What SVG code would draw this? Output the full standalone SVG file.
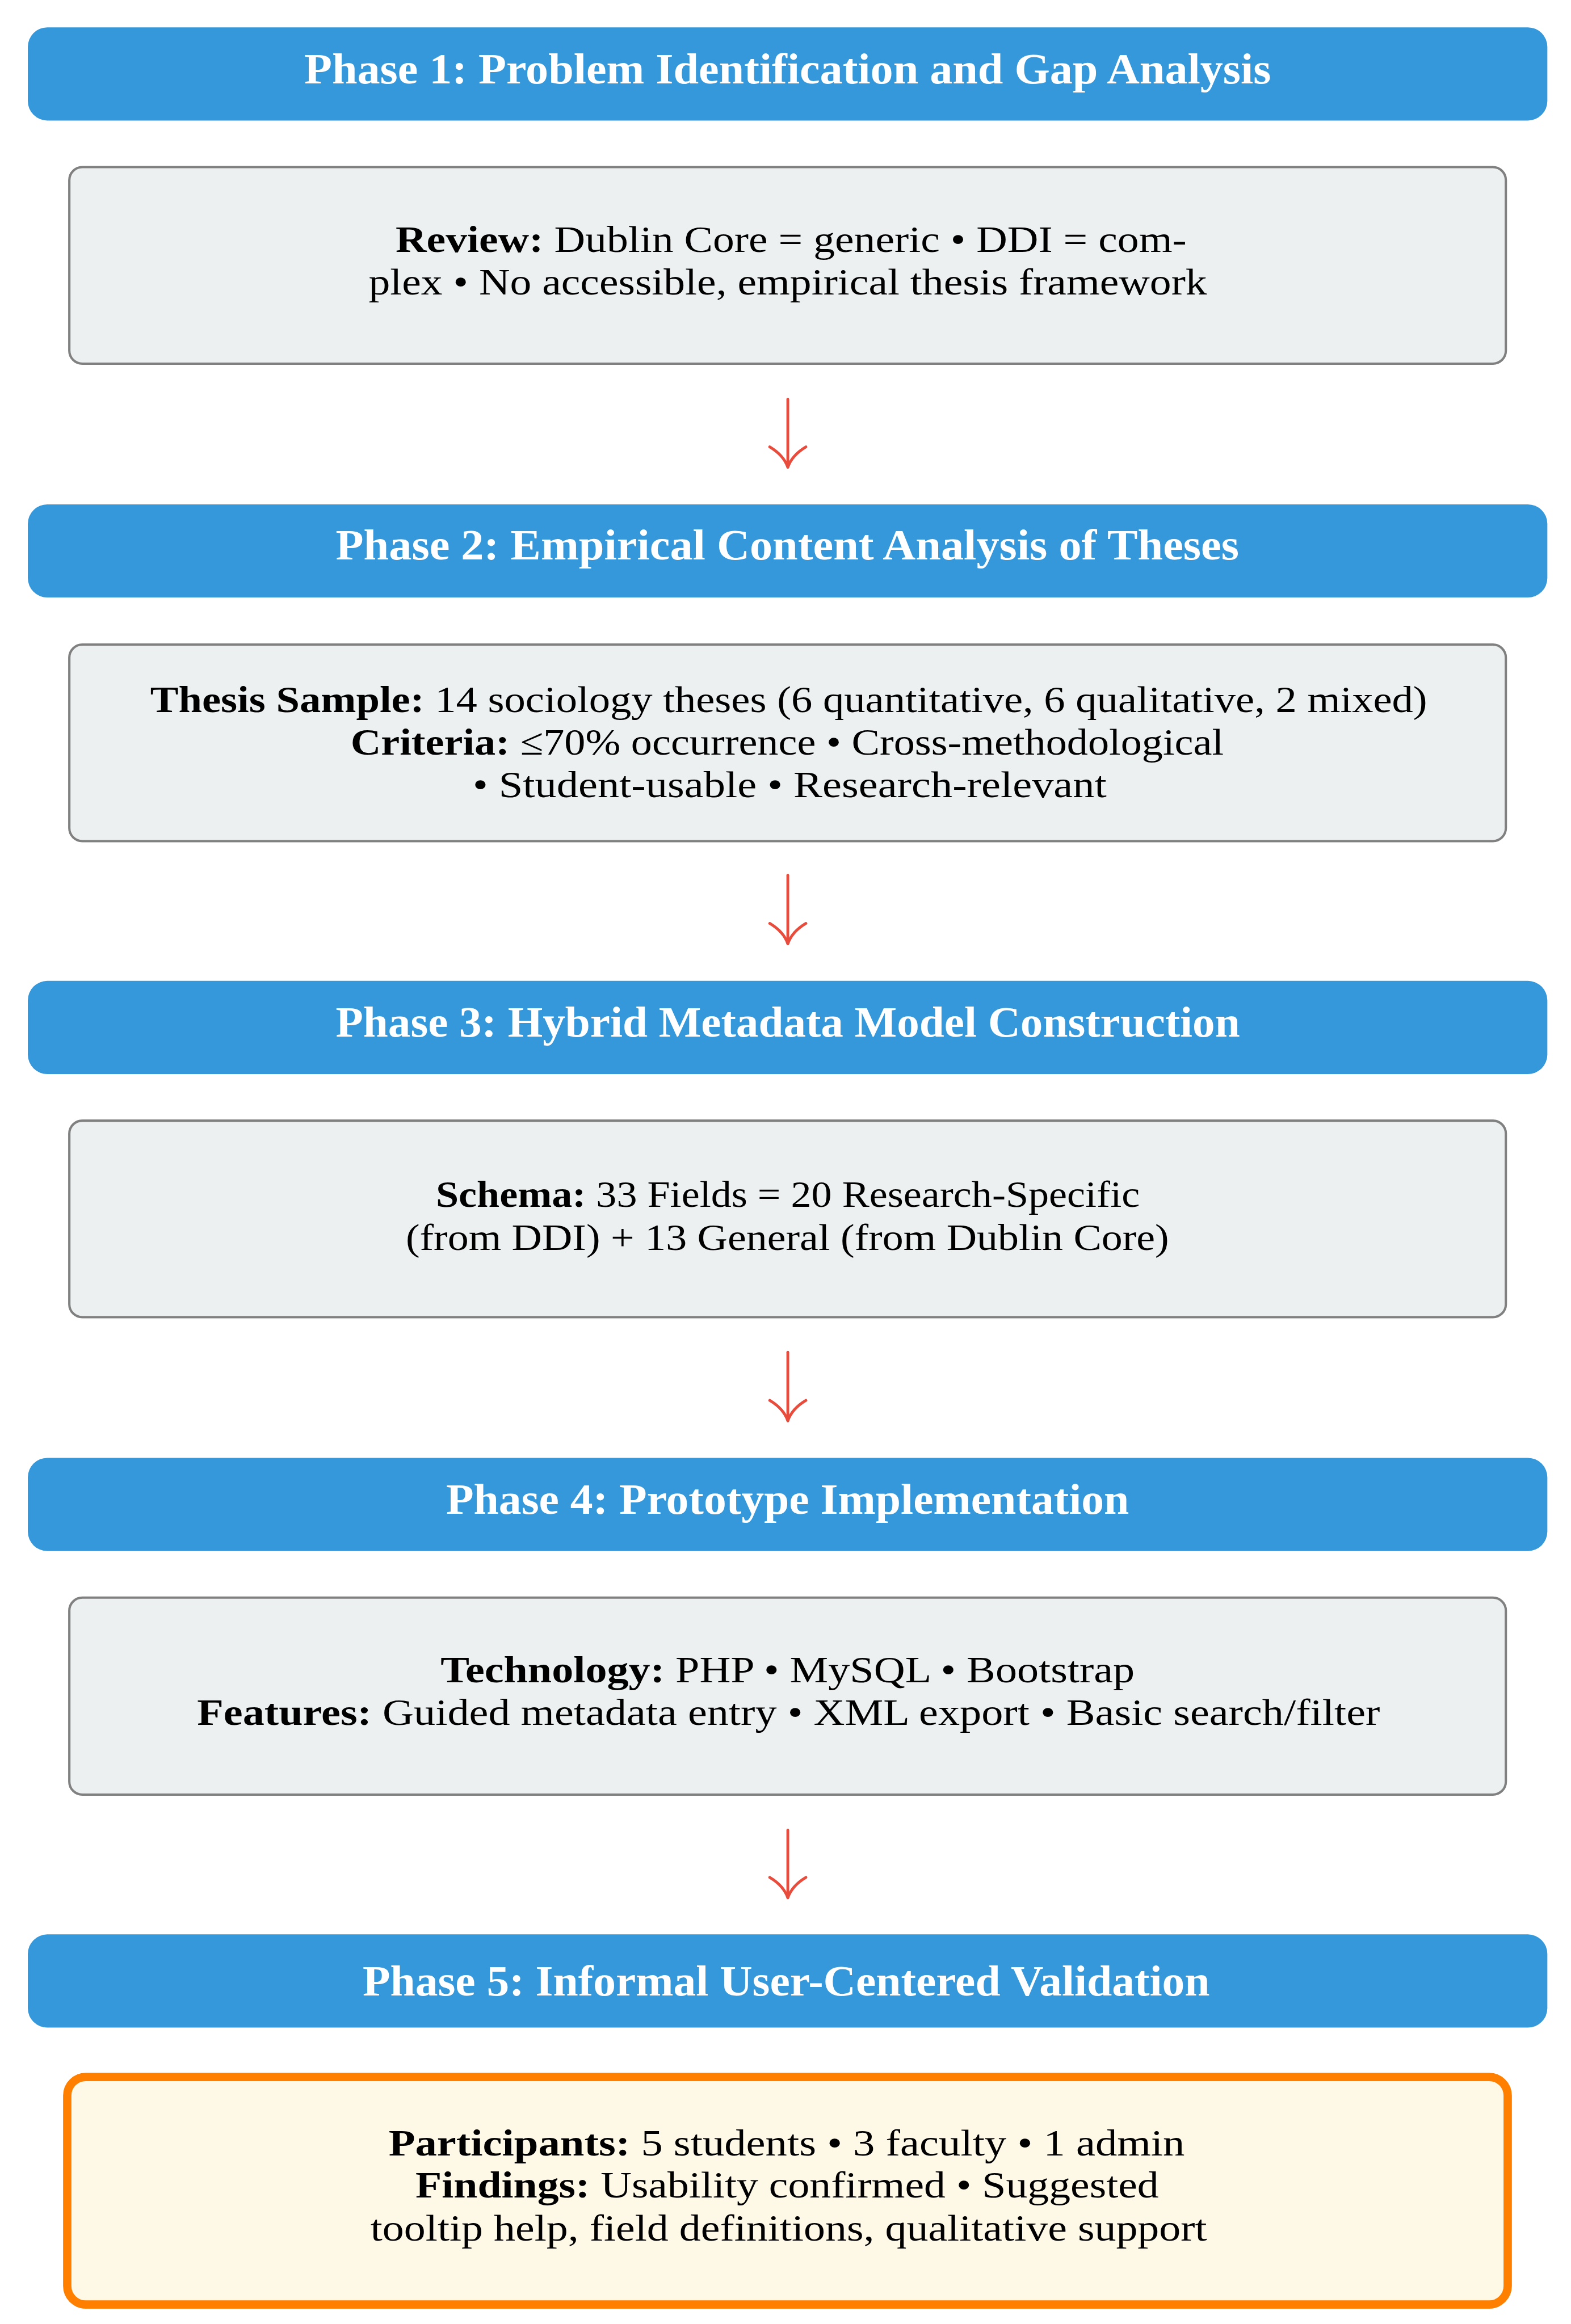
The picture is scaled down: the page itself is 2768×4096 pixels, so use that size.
<svg xmlns="http://www.w3.org/2000/svg" width="2768" height="4096" viewBox="0 0 2768 4096">
<style>
.hdr{fill:#3498db}
.box{fill:#ecf0f1;stroke:#808080;stroke-width:5}
.hl{fill:#fef8e7;stroke:#ff8000;stroke-width:18}
.title{font-family:"Liberation Serif",serif;font-weight:bold;font-size:92px;fill:#ffffff;text-anchor:middle}
.body{font-family:"Liberation Serif",serif;font-size:81px;fill:#000000;text-anchor:middle}
.b{font-weight:bold}
.conn{stroke:#e74c3c;stroke-width:6;fill:none;stroke-linecap:round}
</style>
<defs>
<marker id="tip" markerUnits="userSpaceOnUse" viewBox="-50 -45 60 90" markerWidth="60" markerHeight="90" refX="0" refY="0" orient="auto" overflow="visible">
<path d="M-44,-39 Q-26,-9 0,0 Q-26,9 -44,39" fill="none" stroke="#e74c3c" stroke-width="6" stroke-linecap="round" stroke-linejoin="round"/>
</marker>
</defs>
<rect width="2768" height="4096" fill="#ffffff"/>
<g transform="scale(0.817)">
<g id="connectors">
<path class="conn" d="M1699,861 L1699,1008" marker-end="url(#tip)"/>
<path class="conn" d="M1699,1888 L1699,2036" marker-end="url(#tip)"/>
<path class="conn" d="M1699,2917 L1699,3065" marker-end="url(#tip)"/>
<path class="conn" d="M1699,3948 L1699,4094" marker-end="url(#tip)"/>
</g>
<g id="phase1">
<rect class="hdr" x="60" y="59" width="3277" height="201" rx="42"/>
<text class="title" x="1698.5" y="180" textLength="2085" lengthAdjust="spacingAndGlyphs">Phase 1: Problem Identification and Gap Analysis</text>
</g>
<g id="review">
<rect class="box" x="149.5" y="360.5" width="3098" height="424" rx="28"/>
<text class="body" x="1706" y="543" textLength="1706" lengthAdjust="spacingAndGlyphs"><tspan class="b">Review:</tspan> Dublin Core = generic • DDI = com-</text>
<text class="body" x="1699" y="635.5" textLength="1808" lengthAdjust="spacingAndGlyphs">plex • No accessible, empirical thesis framework</text>
</g>
<g id="phase2">
<rect class="hdr" x="60" y="1088" width="3277" height="201" rx="42"/>
<text class="title" x="1698" y="1207" textLength="1948" lengthAdjust="spacingAndGlyphs">Phase 2: Empirical Content Analysis of Theses</text>
</g>
<g id="sample">
<rect class="box" x="149.5" y="1390.5" width="3098" height="424" rx="28"/>
<text class="body" x="1701" y="1536.5" textLength="2754" lengthAdjust="spacingAndGlyphs"><tspan class="b">Thesis Sample:</tspan> 14 sociology theses (6 quantitative, 6 qualitative, 2 mixed)</text>
<text class="body" x="1697.5" y="1628" textLength="1883" lengthAdjust="spacingAndGlyphs"><tspan class="b">Criteria:</tspan> ≤70% occurrence • Cross-methodological</text>
<text class="body" x="1703" y="1719.5" textLength="1367" lengthAdjust="spacingAndGlyphs">• Student-usable • Research-relevant</text>
</g>
<g id="phase3">
<rect class="hdr" x="60" y="2116" width="3277" height="201" rx="42"/>
<text class="title" x="1699" y="2236" textLength="1950" lengthAdjust="spacingAndGlyphs">Phase 3: Hybrid Metadata Model Construction</text>
</g>
<g id="schema">
<rect class="box" x="149.5" y="2417.5" width="3098" height="424" rx="28"/>
<text class="body" x="1699" y="2604" textLength="1518" lengthAdjust="spacingAndGlyphs"><tspan class="b">Schema:</tspan> 33 Fields = 20 Research-Specific</text>
<text class="body" x="1698" y="2696" textLength="1646" lengthAdjust="spacingAndGlyphs">(from DDI) + 13 General (from Dublin Core)</text>
</g>
<g id="phase4">
<rect class="hdr" x="60" y="3145" width="3277" height="201" rx="42"/>
<text class="title" x="1698.5" y="3265" textLength="1473" lengthAdjust="spacingAndGlyphs">Phase 4: Prototype Implementation</text>
</g>
<g id="tech">
<rect class="box" x="149.5" y="3446.5" width="3098" height="425" rx="28"/>
<text class="body" x="1698.5" y="3629" textLength="1497" lengthAdjust="spacingAndGlyphs"><tspan class="b">Technology:</tspan> PHP • MySQL • Bootstrap</text>
<text class="body" x="1700.5" y="3721" textLength="2551" lengthAdjust="spacingAndGlyphs"><tspan class="b">Features:</tspan> Guided metadata entry • XML export • Basic search/filter</text>
</g>
<g id="phase5">
<rect class="hdr" x="60" y="4173" width="3277" height="201" rx="42"/>
<text class="title" x="1695.5" y="4305" textLength="1827" lengthAdjust="spacingAndGlyphs">Phase 5: Informal User-Centered Validation</text>
</g>
<g id="validation">
<rect class="hl" x="145" y="4480.5" width="3106.5" height="491" rx="40"/>
<text class="body" x="1696.5" y="4650" textLength="1717" lengthAdjust="spacingAndGlyphs"><tspan class="b">Participants:</tspan> 5 students • 3 faculty • 1 admin</text>
<text class="body" x="1697.5" y="4741" textLength="1603" lengthAdjust="spacingAndGlyphs"><tspan class="b">Findings:</tspan> Usability confirmed • Suggested</text>
<text class="body" x="1701" y="4834" textLength="1804" lengthAdjust="spacingAndGlyphs">tooltip help, field definitions, qualitative support</text>
</g>
</g>
</svg>
